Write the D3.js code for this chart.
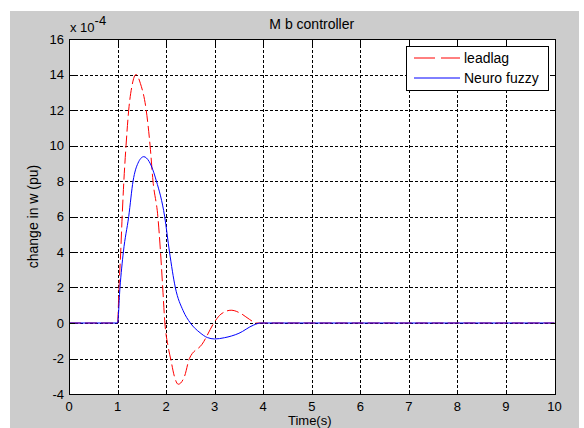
<!DOCTYPE html>
<html><head><meta charset="utf-8">
<script src="https://cdn.jsdelivr.net/npm/d3@7"></script>
<style>
html,body{margin:0;padding:0;background:#fff;}
svg text{font-family:"Liberation Sans",Arial,Helvetica,sans-serif;fill:#000;}
</style></head>
<body><svg id="chart" width="584" height="428"></svg>
<script>
// ---- data (values in units of 1e-4) ----
const leadlagTime = [0, 1.0, 1.03, 1.065, 1.095, 1.13, 1.175, 1.23, 1.3, 1.38, 1.47, 1.59, 1.67, 1.73, 1.83, 1.885, 1.93, 1.975, 2.04, 2.1, 2.17, 2.25, 2.38, 2.48, 2.74, 3.02, 3.13, 3.34, 3.55, 3.72, 3.86, 10];
const leadlagValue = [0, 0, 2, 4, 6, 8, 10, 12, 13.4, 14.0, 13.5, 12, 10, 8, 6, 4, 2, 0, -1.3, -2.1, -3.0, -3.45, -3.0, -2.0, -1.2, 0.15, 0.5, 0.72, 0.52, 0.2, 0, 0];
const fuzzyTime = [0, 1.0, 1.05, 1.12, 1.23, 1.32, 1.42, 1.54, 1.65, 1.8, 1.97, 2.07, 2.19, 2.35, 2.5, 2.7, 2.85, 3.0, 3.2, 3.5, 3.8, 3.95, 10];
const fuzzyValue = [0, 0, 2, 4, 6, 8, 9.0, 9.37, 9.1, 8, 6, 4, 2, 0.7, 0, -0.55, -0.82, -0.9, -0.83, -0.58, -0.12, 0, 0];
const xTicks = [0,1,2,3,4,5,6,7,8,9,10];
const yTicks = [-4,-2,0,2,4,6,8,10,12,14,16];
const seriesNames = ["leadlag", "Neuro fuzzy"];
const titleText = "M b controller";
const xLabel = "Time(s)";
const yLabel = "change in w (pu)";

const svg = d3.select("#chart");
const L = 69, R = 554.5, T = 39, B = 394;
const x = d3.scaleLinear().domain([0,10]).range([L,R]);
const y = d3.scaleLinear().domain([-4,16]).range([B,T]);
const px = v => Math.round(v) + 0.5;

// figure background
svg.append("rect").attr("x",10).attr("y",11).attr("width",569).attr("height",417).attr("fill","#cccccc");
// axes area
svg.append("rect").attr("x",px(L)).attr("y",px(T)).attr("width",px(R)-px(L)).attr("height",px(B)-px(T)).attr("fill","#fff");

// grid
const g = svg.append("g");
xTicks.slice(1,-1).forEach(t=>{
  g.append("line").attr("x1",px(x(t))).attr("x2",px(x(t))).attr("y1",px(T)).attr("y2",px(B))
   .attr("stroke","#000").attr("stroke-width",1).attr("stroke-dasharray","3,2").attr("shape-rendering","crispEdges");
});
yTicks.slice(1,-1).forEach(v=>{
  g.append("line").attr("y1",px(y(v))).attr("y2",px(y(v))).attr("x1",px(L)).attr("x2",px(R))
   .attr("stroke","#000").attr("stroke-width",1).attr("stroke-dasharray","3,2").attr("shape-rendering","crispEdges");
});

// lines
const line = d3.line().x(d=>x(d[0])).y(d=>y(d[1])).curve(d3.curveMonotoneX);
const redData = leadlagTime.map((t,i)=>[t, leadlagValue[i]]);
const blueData = fuzzyTime.map((t,i)=>[t, fuzzyValue[i]]);
svg.append("path").attr("d",line(redData)).attr("fill","none").attr("stroke","#ff0000").attr("stroke-width",1).attr("stroke-dasharray","12,4");
svg.append("path").attr("d",line(blueData)).attr("fill","none").attr("stroke","#0000ff").attr("stroke-width",1);

// axes box and ticks
svg.append("rect").attr("x",px(L)).attr("y",px(T)).attr("width",px(R)-px(L)).attr("height",px(B)-px(T))
  .attr("fill","none").attr("stroke","#000").attr("stroke-width",1).attr("shape-rendering","crispEdges");
const tk = svg.append("g").attr("stroke","#000").attr("shape-rendering","crispEdges");
xTicks.forEach(t=>{
  tk.append("line").attr("x1",px(x(t))).attr("x2",px(x(t))).attr("y1",px(B)).attr("y2",px(B)-5);
  tk.append("line").attr("x1",px(x(t))).attr("x2",px(x(t))).attr("y1",px(T)).attr("y2",px(T)+5);
});
yTicks.forEach(v=>{
  tk.append("line").attr("y1",px(y(v))).attr("y2",px(y(v))).attr("x1",px(L)).attr("x2",px(L)+5);
  tk.append("line").attr("y1",px(y(v))).attr("y2",px(y(v))).attr("x1",px(R)).attr("x2",px(R)-5);
});

// tick labels
xTicks.forEach(t=>{
  svg.append("text").attr("x",x(t)).attr("y",410.5).attr("text-anchor","middle").attr("font-size",13).text(t);
});
yTicks.forEach(v=>{
  svg.append("text").attr("x",64).attr("y",y(v)+4.7).attr("text-anchor","end").attr("font-size",13).text(v);
});

// exponent
const ex = svg.append("text").attr("x",70).attr("y",32.3).attr("font-size",13);
ex.append("tspan").text("x 10");
ex.append("tspan").attr("font-size",13).attr("dy",-7).text("-4");

// title and labels
svg.append("text").attr("x",(L+R)/2).attr("y",29).attr("text-anchor","middle").attr("font-size",14).text(titleText);
svg.append("text").attr("x",(L+R)/2-2).attr("y",425.2).attr("text-anchor","middle").attr("font-size",13).text(xLabel);
svg.append("text").attr("transform",`translate(38,${(T+B)/2}) rotate(-90)`).attr("text-anchor","middle").attr("font-size",14).text(yLabel);

// legend
const lg = svg.append("g");
lg.append("rect").attr("x",406.5).attr("y",46.5).attr("width",142).attr("height",44).attr("fill","#fff").attr("stroke","#000").attr("shape-rendering","crispEdges");
lg.append("line").attr("x1",414).attr("x2",460).attr("y1",58).attr("y2",58).attr("stroke","#ff0000").attr("stroke-dasharray","21,6");
lg.append("line").attr("x1",414).attr("x2",460).attr("y1",78).attr("y2",78).attr("stroke","#0000ff");
lg.append("text").attr("x",464).attr("y",63).attr("font-size",14).text(seriesNames[0]);
lg.append("text").attr("x",464).attr("y",83).attr("font-size",14).text(seriesNames[1]);
</script></body></html>
